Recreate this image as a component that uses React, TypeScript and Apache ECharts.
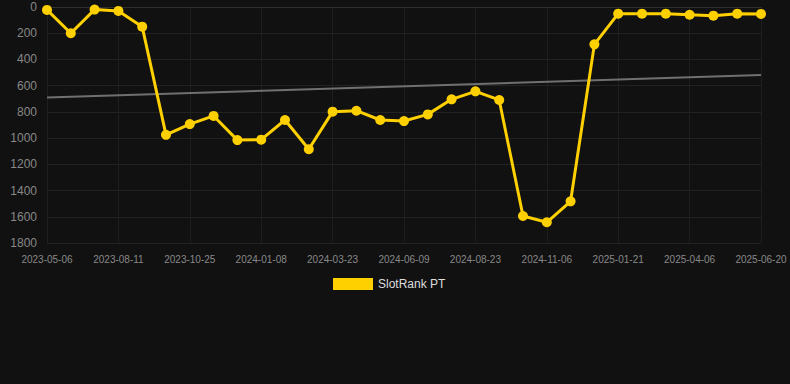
import React, { useEffect, useRef } from "react";
import * as echarts from "echarts";

const categories = [
  "2023-05-06", "2023-06-08", "2023-07-10", "2023-08-11", "2023-09-05", "2023-09-30",
  "2023-10-25", "2023-11-19", "2023-12-14", "2024-01-08", "2024-02-01", "2024-02-26",
  "2024-03-23", "2024-04-18", "2024-05-14", "2024-06-09", "2024-07-04", "2024-07-29",
  "2024-08-23", "2024-09-17", "2024-10-12", "2024-11-06", "2024-12-01", "2024-12-26",
  "2025-01-21", "2025-02-14", "2025-03-12", "2025-04-06", "2025-04-30", "2025-05-26",
  "2025-06-20",
];

const rankValues = [
  22, 200, 20, 30, 150, 975, 893, 831, 1015, 1012, 862, 1085, 798, 791, 862, 870,
  819, 704, 643, 709, 1594, 1642, 1482, 285, 51, 51, 51, 59, 66, 51, 53,
];

const trendStart = 690;
const trendEnd = 519;

const yTicks = { min: 0, max: 1800, interval: 200 };

export default function App() {
  const ref = useRef<HTMLDivElement>(null);
  useEffect(() => {
    document.body.style.margin = "0";
    document.body.style.background = "#111111";
    if (!ref.current) return;
    const chart = echarts.init(ref.current, null, { renderer: "svg" });
    chart.setOption({
      animation: false,
      backgroundColor: "#111111",
      grid: { left: 47, right: 29, top: 7, bottom: 141 },
      legend: {
        data: ["SlotRank PT"],
        top: 273,
        left: 328,
        itemWidth: 40,
        itemHeight: 12,
        itemGap: 10,
        textStyle: { color: "#dddddd", fontSize: 12, fontFamily: "Arial, Liberation Sans, sans-serif" },
        icon: "rect",
      },
      xAxis: {
        type: "category",
        data: categories,
        boundaryGap: false,
        axisLine: { lineStyle: { color: "#2e2e2e" } },
        axisTick: { show: false },
        axisLabel: {
          interval: 2,
          color: "#888888",
          fontSize: 10,
          margin: 11,
          fontFamily: "Arial, Liberation Sans, sans-serif",
        },
        splitLine: { show: true, interval: 2, lineStyle: { color: "#1e1e1e" } },
      },
      yAxis: {
        type: "value",
        inverse: true,
        min: yTicks.min,
        max: yTicks.max,
        interval: yTicks.interval,
        axisLine: { show: false },
        axisTick: { show: false },
        axisLabel: {
          color: "#888888",
          fontSize: 12,
          margin: 10,
          formatter: (v: number) => String(v),
          fontFamily: "Arial, Liberation Sans, sans-serif",
        },
        splitLine: { lineStyle: { color: "#222222" } },
      },
      series: [
        {
          name: "SlotRank PT",
          type: "line",
          data: rankValues,
          color: "#FFD000",
          lineStyle: { width: 3, color: "#FFD000" },
          itemStyle: { color: "#FFD000" },
          symbol: "circle",
          symbolSize: 10,
          z: 3,
        },
        {
          name: "Trend",
          type: "line",
          data: [
            [categories[0], trendStart],
            [categories[categories.length - 1], trendEnd],
          ],
          lineStyle: { width: 2, color: "#707070" },
          symbol: "none",
          z: 2,
        },
      ],
    });
    return () => chart.dispose();
  }, []);
  return <div ref={ref} style={{ width: 790, height: 384 }} />;
}
